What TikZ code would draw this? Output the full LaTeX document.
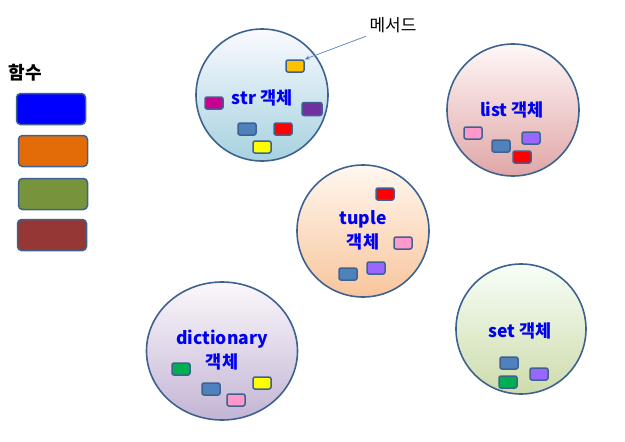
\documentclass[tikz,border=0pt]{standalone}
\usepackage{fontspec}
\newfontfamily\kr{Noto Sans CJK KR}
\usetikzlibrary{arrows.meta,positioning,shapes.geometric}
\definecolor{rim}{HTML}{3E6290}
\definecolor{txtblue}{HTML}{0000F0}
\definecolor{mgold}{HTML}{FFC000}
\definecolor{mmag}{HTML}{C8008F}
\definecolor{mpur}{HTML}{7030A0}
\definecolor{mblue}{HTML}{4F81BD}
\definecolor{mred}{HTML}{FF0000}
\definecolor{myel}{HTML}{FFFF00}
\definecolor{mpink}{HTML}{FF99CC}
\definecolor{mvio}{HTML}{9966FF}
\definecolor{mgreen}{HTML}{00B050}
\definecolor{fblue}{HTML}{0000FF}
\definecolor{forange}{HTML}{E36C09}
\definecolor{fgreen}{HTML}{77933C}
\definecolor{fred}{HTML}{953735}

\begin{document}
\begin{tikzpicture}[x=1pt,y=-1pt,font=\kr,
  obj/.style={circle,draw=rim,line width=1.6pt,minimum size=132pt,inner sep=0pt},
  meth/.style={rectangle,rounded corners=2pt,draw=rim,line width=1.5pt,minimum width=18pt,minimum height=12pt,inner sep=0pt},
  func/.style={meth,minimum width=69pt,minimum height=31pt,rounded corners=4pt},
  lbl/.style={font=\kr\bfseries\fontsize{17.5}{24}\selectfont,text=txtblue,align=center}]

  \useasboundingbox (0,0) rectangle (625,442);

  % objects
  \node[obj,top color=blue!2!white,bottom color={rgb,255:red,166;green,210;blue,223}] (str) at (262,95) {};
  \node[obj,top color=red!3!white,bottom color={rgb,255:red,224;green,166;blue,166}] (list) at (513,110) {};
  \node[obj,top color=orange!6!white,bottom color={rgb,255:red,248;green,197;blue,156}] (tup) at (363,231) {};
  \node[obj,ellipse,minimum width=151pt,minimum height=138pt,top color=violet!3!white,bottom color={rgb,255:red,195;green,181;blue,213}] (dict) at (222,351) {};
  \node[obj,minimum size=130pt,top color=green!3!white,bottom color={rgb,255:red,206;green,219;blue,172}] (set) at (521,329) {};

  \node[lbl] at (262,98) {str 객체};
  \node[lbl] at (512,110) {list 객체};
  \node[lbl] at (363,230) {tuple\\객체};
  \node[lbl] at (222,350) {dictionary\\객체};
  \node[lbl] at (520,331) {set 객체};

  % methods
  \node[meth,fill=mgold] (s1) at (295,66) {};
  \node[meth,fill=mmag] (s2) at (214,103) {};
  \node[meth,fill=mpur,minimum width=20pt,minimum height=13pt] (s3) at (312,109) {};
  \node[meth,fill=mblue] (s4) at (247,129) {};
  \node[meth,fill=mred] (s5) at (283,129) {};
  \node[meth,fill=myel] (s6) at (262,147) {};

  \node[meth,fill=mpink] (l1) at (473,133) {};
  \node[meth,fill=mblue] (l2) at (501,146) {};
  \node[meth,fill=mvio] (l3) at (531,138) {};
  \node[meth,fill=mred] (l4) at (522,157) {};

  \node[meth,fill=mred] (t1) at (385,194) {};
  \node[meth,fill=mpink] (t2) at (403,243) {};
  \node[meth,fill=mvio] (t3) at (376,268) {};
  \node[meth,fill=mblue] (t4) at (348,274) {};

  \node[meth,fill=mgreen] (d1) at (181,369) {};
  \node[meth,fill=mblue] (d2) at (211,389) {};
  \node[meth,fill=mpink] (d3) at (236,400) {};
  \node[meth,fill=myel] (d4) at (262,383) {};

  \node[meth,fill=mblue] (e1) at (509,363) {};
  \node[meth,fill=mgreen] (e2) at (508,382) {};
  \node[meth,fill=mvio] (e3) at (539,374) {};

  % functions
  \node[font=\kr\bfseries\fontsize{18}{20}\selectfont] (fn) at (25,73) {함수};
  \node[func,fill=fblue] (f1) at (51,109) {};
  \node[func,fill=forange] (f2) at (53,151) {};
  \node[func,fill=fgreen] (f3) at (53,194) {};
  \node[func,fill=fred] (f4) at (52,235) {};

  \node[font=\kr\fontsize{17}{19}\selectfont] (mt) at (393,25) {메서드};
  \draw[-{Stealth[length=5pt,width=4pt]},draw=mblue,line width=0.7pt] (mt.south west) -- (s1.north east);

\end{tikzpicture}
\end{document}
